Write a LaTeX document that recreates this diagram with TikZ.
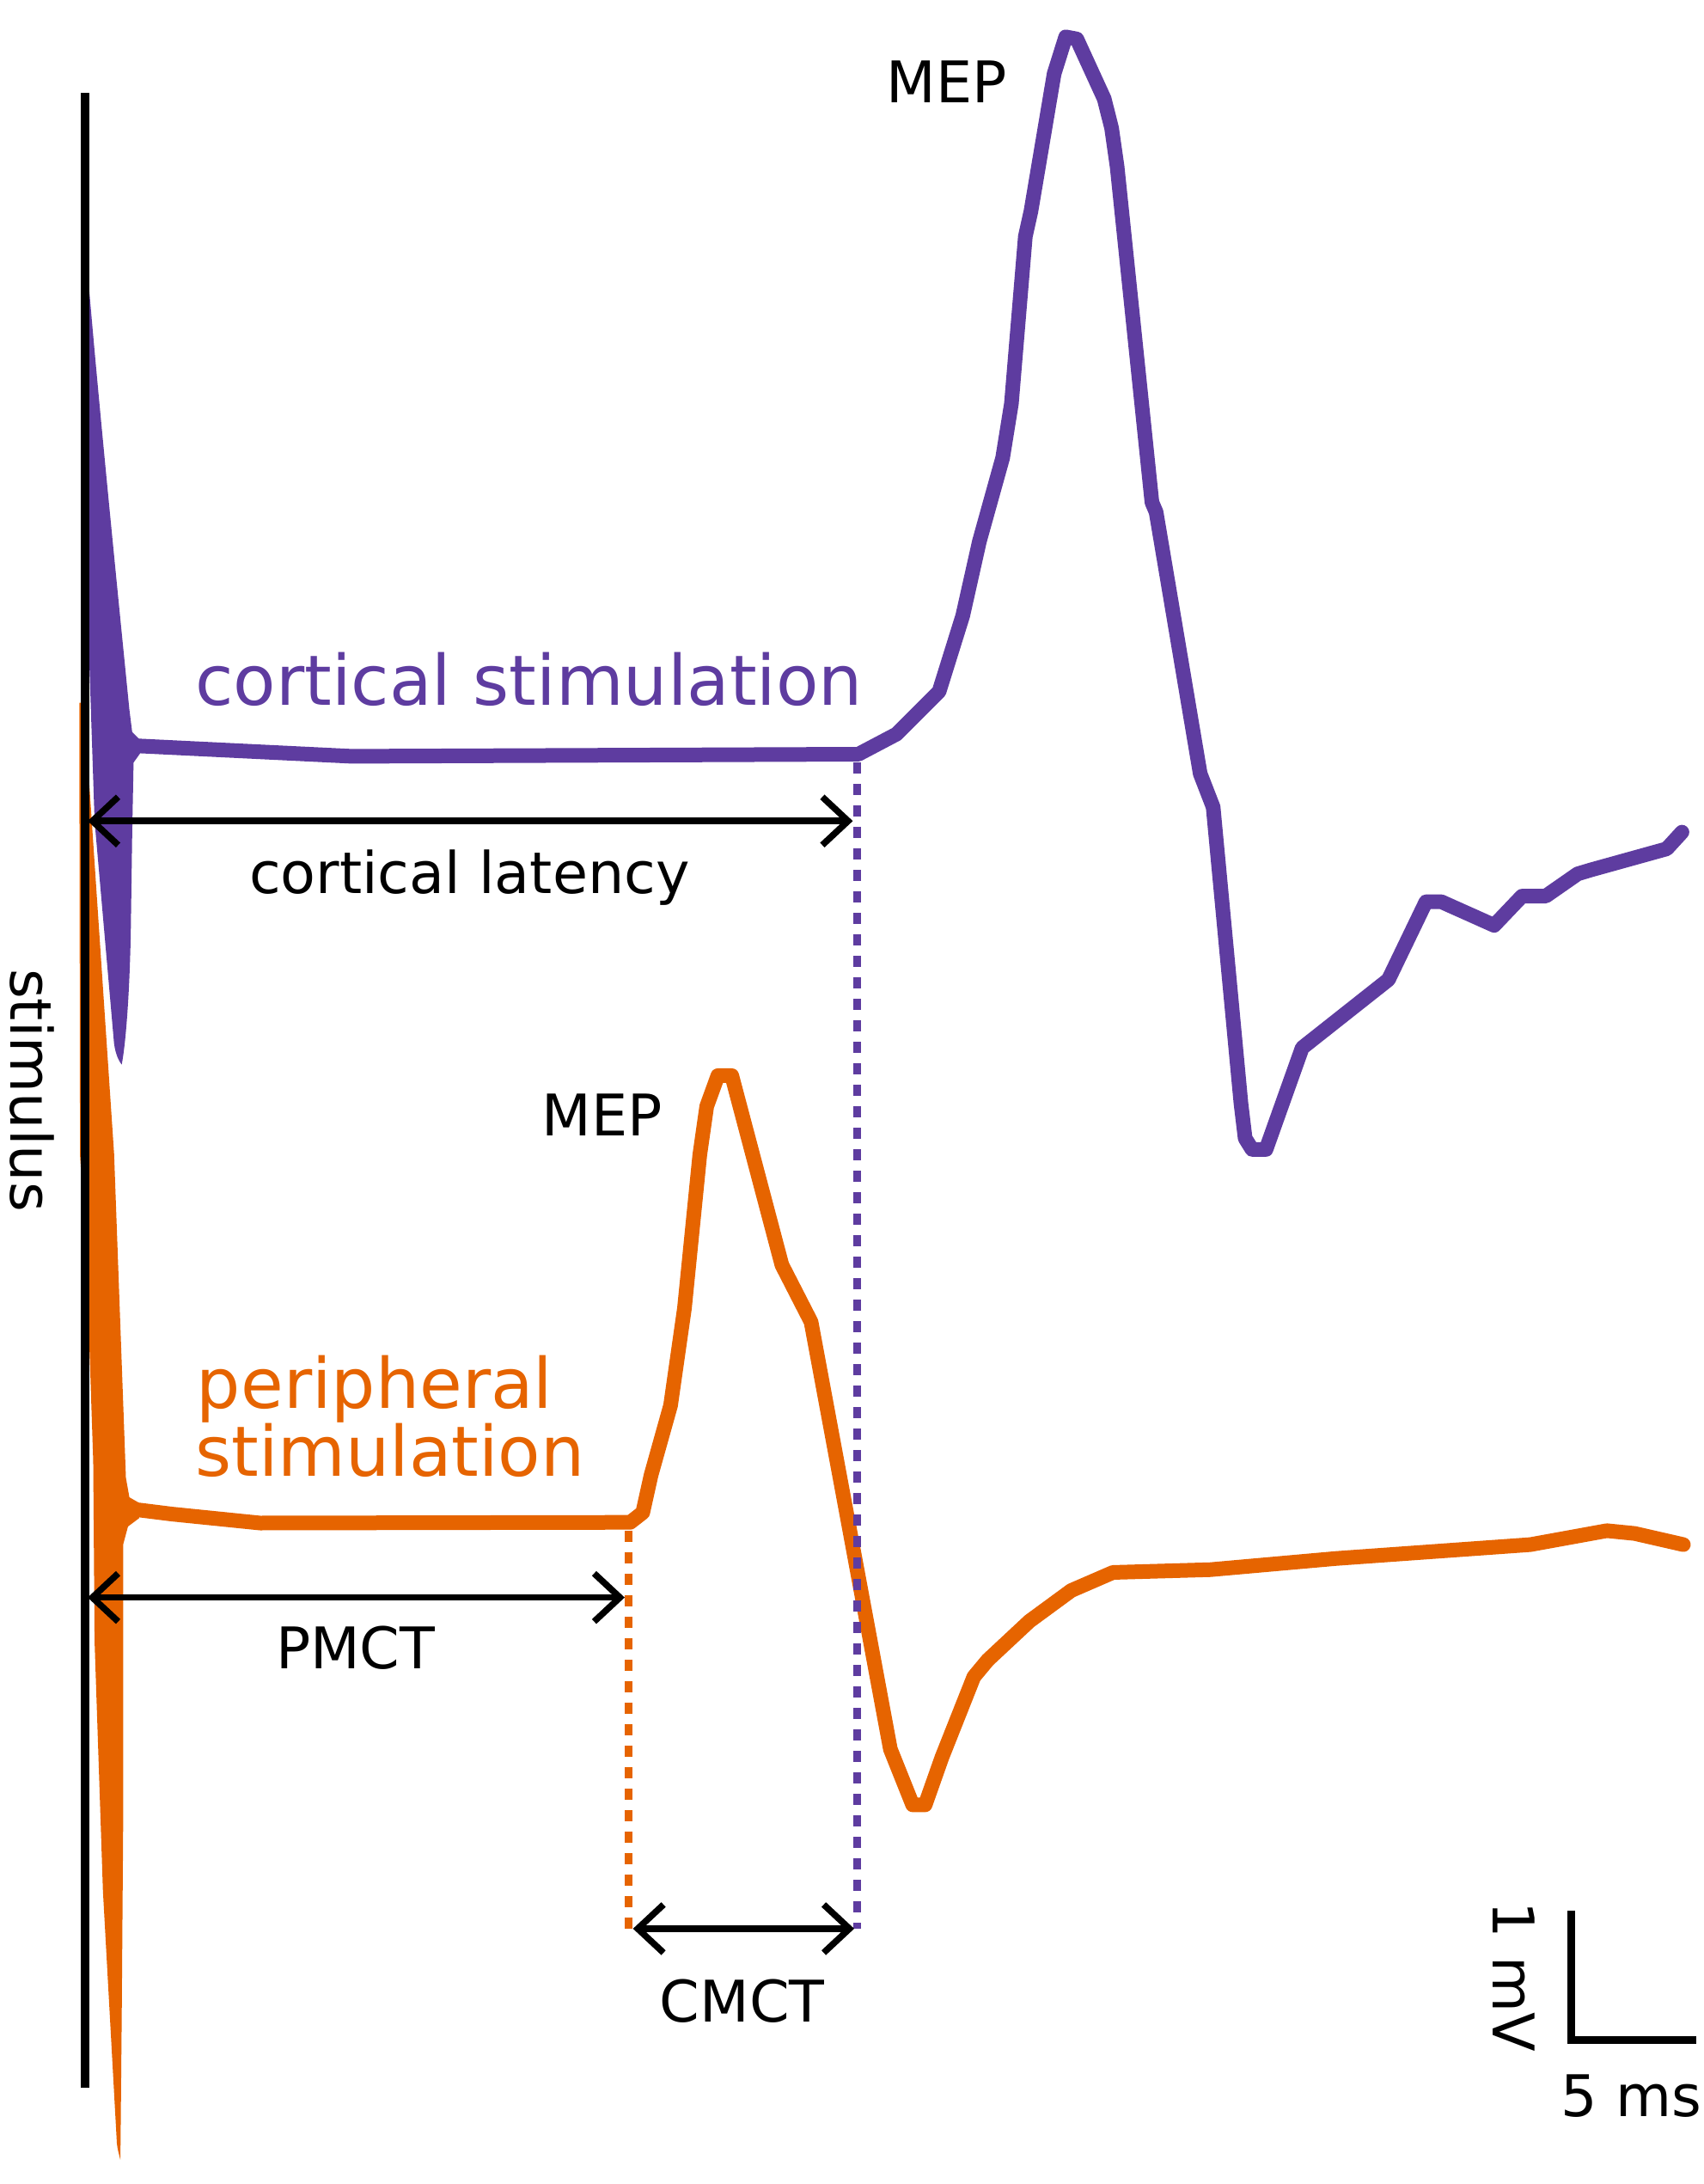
\documentclass[tikz,border=0pt]{standalone}
\usepackage{fontspec}
\setmainfont{DejaVu Sans}
\usetikzlibrary{arrows.meta}
\definecolor{purp}{RGB}{94,60,160}
\definecolor{orng}{RGB}{230,100,0}
\tikzset{
  trace/.style={line width=0.17cm, line join=round, line cap=round},
  dimarrow/.style={black, line width=0.075cm, {Straight Barb[length=3mm,width=5.6mm]}-{Straight Barb[length=3mm,width=5.6mm]}},
  dashv/.style={line width=0.09cm, dash pattern=on 0.13cm off 0.12cm},
  biglab/.style={font=\fontsize{23}{27}\selectfont, inner sep=0pt},
  lab/.style={font=\fontsize{19}{23}\selectfont, inner sep=0pt, text=black},
}
\begin{document}
\begin{tikzpicture}[x=0.01619cm, y=-0.01619cm]
\useasboundingbox[fill=white] (0,0) rectangle (1224.8,1569.5);

% stimulus artifacts
\fill[orng] (57,505) -- (60,505) -- (62,531) -- (82,829) -- (90.5,1062) -- (93,1076) -- (100,1080) -- (100,1091) -- (92,1097) -- (88.5,1110) -- (88.6,1300) -- (87.5,1450) .. controls (87,1500) and (86.8,1530) .. (86.5,1552) .. controls (85.5,1548) and (84.5,1545) .. (84,1540) -- (74,1359) -- (68,1180) -- (67,1050) -- (62,900) -- (57.5,830) -- cycle;
\fill[purp] (63,195) .. controls (70,280) and (84,420) .. (93,510) -- (95,526) -- (101,532) -- (101,541) -- (96,548) -- (95,600) -- (94,670) .. controls (93,720) and (90,752) .. (87.5,765) .. controls (85,762) and (83,757) .. (82,750) -- (68,590) -- (63,440) -- cycle;

% stimulus line
\coordinate (stimtop) at (61,67);
\coordinate (stimbot) at (61,1500);
\draw[line width=0.1cm] (stimtop) -- (stimbot);

% cortical trace
\draw[trace, purp] (99,536) -- (253,543.5) -- (617,542) -- (644.5,527.5) -- (675,497) -- (692,442.5) -- (704,389) -- (720.7,329) -- (727,290) -- (737,170) -- (741,152) -- (757.7,53) -- (766,26.5) -- (774,28) -- (793.7,71) -- (799,92) -- (803,120) -- (828,361) -- (831,368) -- (862.7,556) -- (872,580) -- (892,793) -- (895,818) -- (900,826) -- (910,826) -- (936,753) -- (998,704) -- (1025,648) -- (1036,648) -- (1074,665) -- (1094,644) -- (1111,644) -- (1134,628) -- (1144,625) -- (1198,610) -- (1209,598);

% peripheral trace
\draw[trace, orng] (99,1085) -- (123,1088) -- (187,1094.5) -- (453,1094) -- (462,1087) -- (468,1060) -- (482,1010) -- (492,940) -- (503,830) -- (508,795) -- (516,773) -- (526,773) -- (562,909) -- (583,950) -- (640,1257) -- (656,1297) -- (665,1297) -- (677,1263) -- (700,1205) -- (710,1193) -- (740,1165) -- (770,1143) -- (800,1130) -- (870,1128) -- (960,1120) -- (1100,1110) -- (1155,1100) -- (1175,1102) -- (1210,1110);

% dashed markers
\coordinate (pd1) at (616,548);
\coordinate (pd2) at (616,1386);
\coordinate (od1) at (452,1100);
\coordinate (od2) at (452,1386);
\draw[dashv, purp] (pd1) -- (pd2);
\draw[dashv, orng] (od1) -- (od2);

% dimension arrows
\coordinate (clL) at (63,590);
\coordinate (clR) at (613,590);
\coordinate (pmL) at (63,1148);
\coordinate (pmR) at (449,1148);
\coordinate (cmL) at (455,1386);
\coordinate (cmR) at (614,1386);
\draw[dimarrow] (clL) -- (clR);
\draw[dimarrow] (pmL) -- (pmR);
\draw[dimarrow] (cmL) -- (cmR);

% labels
\node[biglab, text=purp, anchor=base west] (cortstim) at (140,506.5) {cortical stimulation};
\node[biglab, text=orng, anchor=base west] (periph1) at (141,1012) {peripheral};
\node[biglab, text=orng, anchor=base west] (periph2) at (140,1061) {stimulation};
\node[lab, anchor=base] (cortlat) at (337.5,642) {cortical latency};
\node[lab, anchor=base] (mep1) at (680.5,74) {MEP};
\node[lab, anchor=base] (mep2) at (433,816) {MEP};
\node[lab, anchor=base] (pmct) at (255.5,1199.5) {PMCT};
\node[lab, anchor=base] (cmct) at (533.5,1453) {CMCT};
\node[lab, anchor=base, rotate=-90] (stimlab) at (8,783.5) {stimulus};
\node[lab, anchor=base, rotate=-90] (mvlab) at (1073,1420.5) {1 mV};
\node[lab, anchor=base] (mslab) at (1172.5,1521) {5 ms};

% scale bar
\coordinate (sbtop) at (1129.7,1373);
\coordinate (sbcorner) at (1129.7,1466);
\coordinate (sbright) at (1219,1466);
\draw[line width=0.09cm, line join=miter] (sbtop) -- (sbcorner) -- (sbright);
\end{tikzpicture}
\end{document}
